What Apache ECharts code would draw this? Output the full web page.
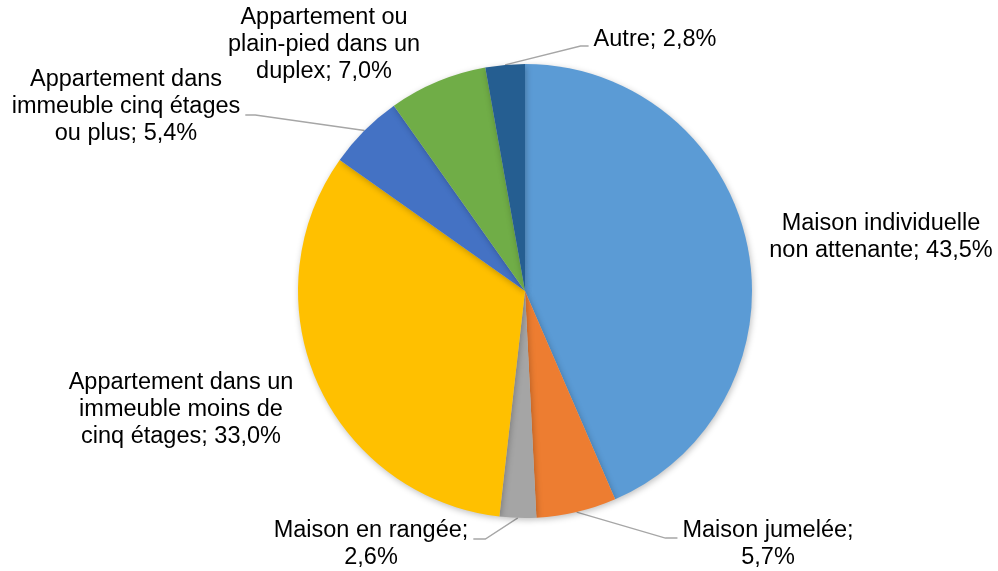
<!DOCTYPE html>
<html>
<head>
<meta charset="utf-8">
<script src="https://cdn.jsdelivr.net/npm/echarts@6/dist/echarts.min.js"></script>
<style>
  html, body { margin: 0; padding: 0; background: #fff; }
  #chart { width: 998px; height: 571px; }
</style>
</head>
<body>
<div id="chart"></div>
<script>
// categories (line breaks where the label wraps)
const categories = [
  'Maison individuelle\nnon attenante',
  'Maison jumelée',
  'Maison en rangée',
  'Appartement dans un\nimmeuble moins de\ncinq étages',
  'Appartement dans\nimmeuble cinq étages\nou plus',
  'Appartement ou\nplain-pied dans un\nduplex',
  'Autre'
]
// share in %
const values = [43.5, 5.7, 2.6, 33.0, 5.4, 7.0, 2.8]
// separator between name and value in the label
const separators = ['; ', ';\n', ';\n', '; ', '; ', '; ', '; ']
const colors = ['#5B9BD5', '#ED7D31', '#A5A5A5', '#FFC000', '#4472C4', '#70AD47', '#255E91']

// label layout (centre of each label box), leader line settings
const labelPos = [[881, 237], [768, 544], [371, 544], [181, 410], [126, 107], [324, 45], [655, 40]]
const showLine = [false, true, true, false, true, false, true]
const lineDy = [0, -6, -5, 0, 8, 0, 6]
const elbowLen = [0, 12, 12, 0, 10, 0, 8]

const fmt = v => v.toFixed(1).replace('.', ',') + '%'

const myChart = echarts.init(document.getElementById('chart'))
const option = {
  animation: false,
  color: colors,
  series: [
    {
      type: 'pie',
      center: [525, 291],
      radius: 227,
      startAngle: 90,
      clockwise: true,
      avoidLabelOverlap: false,
      itemStyle: {
        borderWidth: 0,
        shadowBlur: 6,
        shadowOffsetX: 1,
        shadowOffsetY: 2,
        shadowColor: 'rgba(0,0,0,0.25)'
      },
      emphasis: { disabled: true },
      label: {
        show: true,
        position: 'outside',
        color: '#000',
        fontFamily: 'Liberation Sans, Arial, sans-serif',
        fontSize: 23.5,
        lineHeight: 27,
        align: 'center',
        formatter: p => p.name + separators[p.dataIndex] + fmt(p.value)
      },
      labelLine: {
        show: true,
        lineStyle: { color: '#A6A6A6', width: 1.3 }
      },
      labelLayout: params => {
        const i = params.dataIndex
        const [x, y] = labelPos[i]
        const res = { x: x, y: y, align: 'center', verticalAlign: 'middle' }
        if (showLine[i] && params.labelLinePoints) {
          const p0 = params.labelLinePoints[0]
          const half = params.labelRect.width / 2
          const ly = y + lineDy[i]
          let endX, elbowX
          if (x > p0[0]) {
            endX = x - half - 5
            elbowX = endX - elbowLen[i]
          } else {
            endX = x + half + 5
            elbowX = endX + elbowLen[i]
          }
          res.labelLinePoints = [p0, [elbowX, ly], [endX, ly]]
        }
        return res
      },
      data: categories.map((name, i) => ({
        name: name,
        value: values[i],
        labelLine: { show: showLine[i] }
      }))
    }
  ]
}
myChart.setOption(option)
</script>
</body>
</html>
